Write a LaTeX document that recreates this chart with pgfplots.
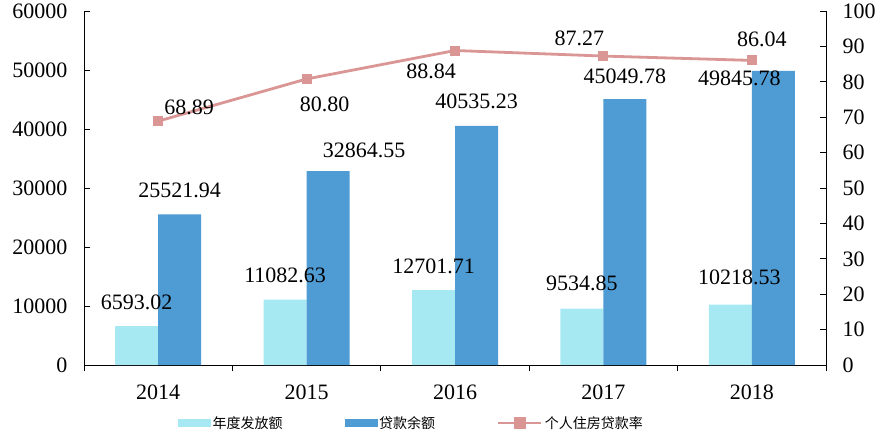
\documentclass[border=0pt]{standalone}
\usepackage{fontspec}
\setmainfont{Liberation Serif}
\newfontfamily\cjk{Noto Sans CJK SC}
\usepackage{pgfplots}
\pgfplotsset{compat=1.18}
\usepackage{pgfplotstable}

\definecolor{lightc}{RGB}{166,233,243}
\definecolor{darkc}{RGB}{79,155,212}
\definecolor{linec}{RGB}{217,150,148}
\newcommand{\numfont}{\fontsize{22}{26}\selectfont}

\pgfplotstableread{
x y label dx dy
0 6593.02 6593.02 0 24
1 11082.63 11082.63 0 24
2 12701.71 12701.71 0 24
3 9534.85 9534.85 0 25
4 10218.53 10218.53 9 27
}\annual
\pgfplotstableread{
x y label dx dy
0 25521.94 25521.94 0 24
1 32864.55 32864.55 36 21
2 40535.23 40535.23 0 24
3 45049.78 45049.78 0 23
4 49845.78 49845.78 -34 -7
}\balance
\pgfplotstableread{
x y label dx dy
0 68.89 68.89 31 14
1 80.80 80.80 18 -25
2 88.84 88.84 -24 -21
3 87.27 87.27 -24 18
4 86.04 86.04 10 21
}\rate

\pgfplotsset{
  base/.style={width=742pt,height=354pt,scale only axis,
    xmin=-0.5,xmax=4.5,clip=false,
    tick align=inside, major tick length=6pt, minor tick length=6pt,
    axis line style={line width=0.8pt,-},
    every tick/.style={black,line width=0.8pt},
    every minor tick/.style={black,line width=0.8pt},
    tick label style={font=\numfont},
    /pgf/number format/.cd,1000 sep={},assume math mode=true},
  lightleg/.style={legend image code/.code={\fill[lightc] (0pt,-3.5pt) rectangle (32pt,3.5pt);}},
  darkleg/.style={legend image code/.code={\fill[darkc] (0pt,-3.5pt) rectangle (32pt,3.5pt);}},
  lineleg/.style={legend image code/.code={\draw[linec,line width=2.8pt] (0pt,0pt) -- (43pt,0pt); \fill[linec] (17pt,-4.5pt) rectangle (26pt,4.5pt);}},
  lab/.style={nodes near coords, point meta=explicit symbolic,
    visualization depends on={\thisrow{dx}\as\dx},
    visualization depends on={\thisrow{dy}\as\dy},
    nodes near coords style={anchor=center,xshift=\dx pt,yshift=\dy pt,font=\numfont,text=black}},
}

\begin{document}
\begin{tikzpicture}
\begin{axis}[base,
  ybar=0pt, bar width=43pt,
  ymin=0,ymax=60000, ytick={0,10000,...,60000},
  scaled y ticks=false,
  axis y line*=left, axis x line*=bottom,
  xtick={0,1,2,3,4},
  xticklabels={2014,2015,2016,2017,2018},
  every major x tick/.style={draw=none},
  minor xtick={-0.5,0.5,1.5,2.5,3.5,4.5},
  x tick label style={yshift=-10pt},
  y tick label style={xshift=-13pt},
]
\addplot[fill=lightc,draw=none,lab] table[x=x,y=y,meta=label]{\annual};
\addplot[fill=darkc,draw=none,lab] table[x=x,y=y,meta=label]{\balance};
\end{axis}
\begin{axis}[base,
  ymin=0,ymax=100, ytick={0,10,...,100},
  axis y line*=right, axis x line=none,
  y tick label style={xshift=13pt},
  legend columns=3,
  legend style={at={(axis description cs:0.1267,-0.1638)},anchor=west,
    draw=none,fill=none,inner sep=0pt,
    font=\cjk\fontsize{14}{16}\selectfont,
    /tikz/every even column/.append style={column sep=60pt}},
]
\addlegendimage{lightleg}
\addlegendentry{年度发放额}
\addlegendimage{darkleg}
\addlegendentry{贷款余额}
\addplot[linec,line width=2.8pt,mark=square*,mark size=4.5pt,
  mark options={fill=linec,draw=linec,line width=0pt},lineleg,lab]
  table[x=x,y=y,meta=label]{\rate};
\addlegendentry{个人住房贷款率}
\coordinate (BL) at (rel axis cs:-0.11321,-0.21186);
\coordinate (TR) at (rel axis cs:1.07817,1.03107);
\end{axis}
\pgfresetboundingbox
\path[use as bounding box] (BL) rectangle (TR);
\end{tikzpicture}
\end{document}
